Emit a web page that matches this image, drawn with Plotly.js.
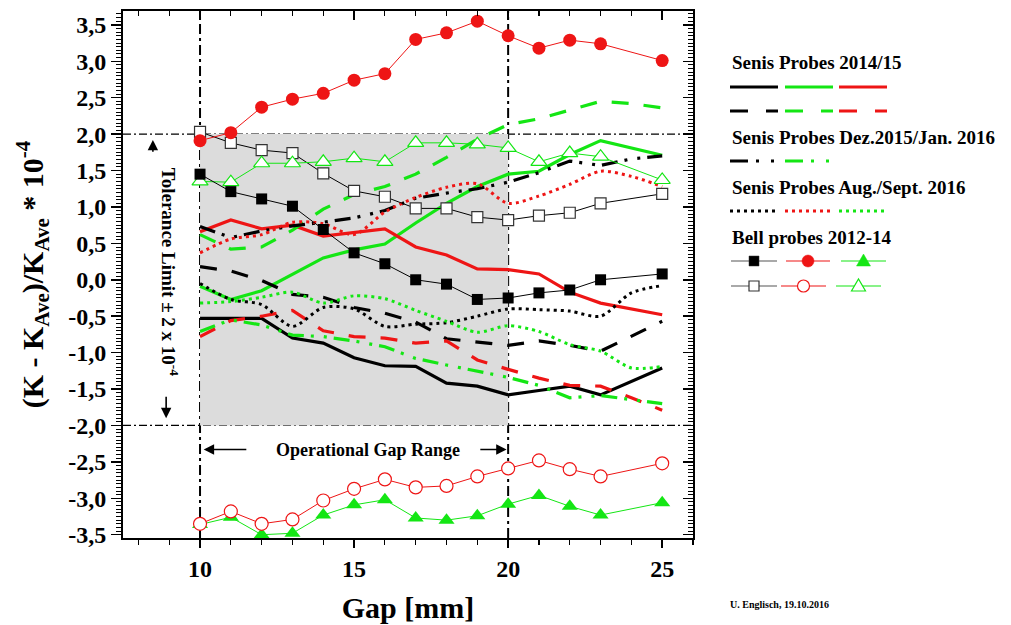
<!DOCTYPE html>
<html>
<head>
<meta charset="utf-8">
<script src="https://cdn.plot.ly/plotly-3.0.1.min.js"></script>
<style>html,body{margin:0;padding:0;background:#fff;}#chart{width:1011px;height:625px;}</style>
</head>
<body>
<div id="chart"></div>
<script>
// ---------------- DATA ----------------
const gapSenis = [10,11,12,13,14,15,16,17,18,19,20,21,22,23,24,25];
// Senis Probes 2014/15 (solid)
const senisBlackSolid = [-0.53,-0.53,-0.53,-0.80,-0.87,-1.07,-1.18,-1.19,-1.42,-1.46,-1.58,-1.52,-1.46,-1.58,-1.40,-1.21];
const senisGreenSolid = [-0.09,-0.27,-0.15,0.08,0.30,0.41,0.49,0.78,1.05,1.28,1.45,1.49,1.72,1.91,1.81,1.71];
const senisRedSolid   = [0.66,0.82,0.70,0.75,0.60,0.65,0.70,0.45,0.34,0.15,0.14,0.08,-0.17,-0.32,-0.40,-0.48];
// Senis Probes 2014/15 (dashed)
const senisBlackDash = [0.18,0.12,-0.01,-0.20,-0.24,-0.38,-0.46,-0.58,-0.81,-0.86,-0.90,-0.84,-0.90,-0.98,-0.78,-0.57];
const senisGreenDash = [0.62,0.42,0.45,0.68,0.97,1.17,1.28,1.45,1.68,1.93,2.13,2.21,2.33,2.45,2.42,2.36];
const senisRedDash   = [-0.78,-0.56,-0.50,-0.42,-0.70,-0.78,-0.80,-0.87,-0.84,-1.10,-1.23,-1.35,-1.45,-1.46,-1.62,-1.79];
// Senis Probes Dez.2015/Jan. 2016 (dash-dot)
const senisBlackDashDot = [0.73,0.58,0.67,0.74,0.79,0.85,0.95,1.12,1.19,1.25,1.34,1.47,1.63,1.57,1.66,1.70];
const senisGreenDashDot = [-0.71,-0.55,-0.62,-0.76,-0.78,-0.84,-0.92,-1.08,-1.17,-1.25,-1.34,-1.45,-1.62,-1.59,-1.65,-1.70];
// Senis Probes Aug./Sept. 2016 (dotted)
const senisBlackDot = [-0.05,-0.27,-0.34,-0.64,-0.38,-0.40,-0.64,-0.61,-0.59,-0.50,-0.40,-0.41,-0.43,-0.50,-0.18,-0.08];
const senisRedDot   = [0.37,0.56,0.62,0.79,0.77,0.62,0.93,1.13,1.27,1.32,1.05,1.15,1.31,1.49,1.42,1.28];
const senisGreenDot = [-0.32,-0.30,-0.24,-0.17,-0.32,-0.22,-0.26,-0.42,-0.57,-0.72,-0.63,-0.71,-0.89,-0.98,-1.21,-1.19];
// Bell probes 2012-14
const gapBell = [10,11,12,13,14,15,16,17,18,19,20,21,22,23,25];
const bellBlackFilled = [1.45,1.21,1.11,1.01,0.69,0.37,0.22,0.00,-0.06,-0.27,-0.25,-0.18,-0.14,0.00,0.08];
const bellRedFilled   = [1.91,2.02,2.37,2.48,2.56,2.74,2.83,3.30,3.39,3.55,3.35,3.18,3.29,3.24,3.01];
const bellGreenFilled = [-3.36,-3.26,-3.50,-3.48,-3.23,-3.09,-3.02,-3.27,-3.30,-3.24,-3.08,-2.96,-3.11,-3.23,-3.06];
const bellBlackOpen   = [2.03,1.88,1.78,1.74,1.46,1.22,1.14,0.98,0.98,0.86,0.82,0.88,0.92,1.05,1.18];
const bellRedOpen     = [-3.35,-3.18,-3.35,-3.29,-3.03,-2.87,-2.74,-2.85,-2.83,-2.70,-2.59,-2.48,-2.60,-2.70,-2.52];
const bellGreenOpen   = [1.35,1.34,1.60,1.60,1.62,1.67,1.62,1.88,1.88,1.86,1.81,1.62,1.74,1.69,1.37];
// reference limits and ticks
const toleranceLimit = 2;
const operationalGap = [10, 20];
const yTickVals = [-3.5,-3.0,-2.5,-2.0,-1.5,-1.0,-0.5,0.0,0.5,1.0,1.5,2.0,2.5,3.0,3.5];
const yTickText = ["-3,5","-3,0","-2,5","-2,0","-1,5","-1,0","-0,5","0,0","0,5","1,0","1,5","2,0","2,5","3,0","3,5"];
const legendTitles = ["Senis Probes 2014/15","Senis Probes Dez.2015/Jan. 2016","Senis Probes Aug./Sept. 2016","Bell probes 2012-14"];

// ---------------- STYLE ----------------
const BLACK = '#000000', GREEN = '#14e614', RED = '#ee1515';
const SERIF = 'Liberation Serif, Times New Roman, serif';
const DASH = '17px,15px';
const DASHDOT = '16px,7px,3px,10px,3px,7px';
const DOT = '3px,4px';
const L = 123, R = 693, T = 11, B = 538, WID = 1011, HEI = 625;
const px = x => (x - L) / (R - L);
const py = y => (B - y) / (B - T);

function senis(y, color, dash, shape) {
  return {x: gapSenis, y: y, type: 'scatter', mode: 'lines', showlegend: false,
    line: {color: color, width: dash === DOT ? 3 : 3.2, dash: dash, shape: shape || 'linear', smoothing: 0.8},
    hoverinfo: 'skip'};
}
function bell(y, color, symbol, size, open) {
  return {x: gapBell, y: y, type: 'scatter', mode: 'lines+markers', showlegend: false,
    line: {color: color, width: 1},
    marker: {symbol: symbol, size: size, color: open ? '#ffffff' : color,
      line: {color: color === BLACK ? '#333333' : color, width: open ? 1.2 : 0}},
    hoverinfo: 'skip'};
}
const traces = [
  senis(senisBlackSolid, BLACK, 'solid'),
  senis(senisGreenSolid, GREEN, 'solid'),
  senis(senisRedSolid, RED, 'solid'),
  senis(senisBlackDash, BLACK, DASH),
  senis(senisGreenDash, GREEN, DASH),
  senis(senisRedDash, RED, DASH),
  senis(senisBlackDashDot, BLACK, DASHDOT),
  senis(senisGreenDashDot, GREEN, DASHDOT),
  senis(senisBlackDot, BLACK, DOT, 'spline'),
  senis(senisRedDot, RED, DOT, 'spline'),
  senis(senisGreenDot, GREEN, DOT, 'spline'),
  bell(bellBlackOpen, BLACK, 'square', 11, true),
  bell(bellGreenOpen, GREEN, 'triangle-up', 14, true),
  bell(bellBlackFilled, BLACK, 'square', 11, false),
  bell(bellRedFilled, RED, 'circle', 13, false),
  bell(bellGreenFilled, GREEN, 'triangle-up', 14, false),
  bell(bellRedOpen, RED, 'circle', 13, true),
  {x: [], y: [], xaxis: 'x2', yaxis: 'y2', type: 'scatter', showlegend: false}
];

// ---------------- SHAPES ----------------
const shapes = [
  {type: 'rect', xref: 'x', yref: 'y', x0: operationalGap[0], x1: operationalGap[1], y0: -toleranceLimit, y1: toleranceLimit,
   fillcolor: '#dcdcdc', line: {width: 0}, layer: 'below'},
  {type: 'line', xref: 'paper', yref: 'y', x0: 0, x1: 1, y0: toleranceLimit, y1: toleranceLimit, line: {color: BLACK, width: 1.3, dash: '8px,3px,2px,3px'}, layer: 'below'},
  {type: 'line', xref: 'paper', yref: 'y', x0: 0, x1: 1, y0: -toleranceLimit, y1: -toleranceLimit, line: {color: BLACK, width: 1.3, dash: '8px,3px,2px,3px'}, layer: 'below'},
  {type: 'line', xref: 'x', yref: 'paper', x0: operationalGap[0], x1: operationalGap[0], y0: 0, y1: 1, line: {color: BLACK, width: 2, dash: '10px,4px,3px,4px'}, layer: 'below'},
  {type: 'line', xref: 'x', yref: 'paper', x0: operationalGap[1], x1: operationalGap[1], y0: 0, y1: 1, line: {color: BLACK, width: 2, dash: '10px,4px,3px,4px'}, layer: 'below'}
];
// legend samples (decoration, pixel-positioned)
function lseg(x0, x1, y, color, dash, w) {
  shapes.push({type: 'line', xref: 'paper', yref: 'paper', x0: px(x0), x1: px(x1), y0: py(y), y1: py(y),
    line: {color: color, width: w || 3.2, dash: dash || 'solid'}});
}
const segs = [[730,778],[785,833],[839,887]];
const cols = [BLACK, GREEN, RED];
segs.forEach((s, i) => lseg(s[0], s[1], 87, cols[i], 'solid'));
segs.forEach((s, i) => lseg(s[0], s[1], 111, cols[i], '18px,18px'));
lseg(730, 778, 161, BLACK, '18px,8px,3px,12px,3px,12px');
lseg(785, 833, 161, GREEN, '18px,8px,3px,12px,3px,12px');
[BLACK, RED, GREEN].forEach((c, i) => lseg(segs[i][0], segs[i][1] - 3, 211, c, DOT, 3));
// Bell legend rows
function bellLegend(x0, x1, y, color, kind, open) {
  const lc = color === BLACK ? '#555555' : color;
  lseg(x0, x1, y, lc, 'solid', 1.2);
  const cx = (x0 + x1) / 2, r = 5.5;
  const fill = open ? '#ffffff' : color;
  const line = {color: color === BLACK ? '#333333' : color, width: open ? 1.2 : 0.5};
  if (kind === 'square') shapes.push({type: 'rect', xref: 'paper', yref: 'paper', x0: px(cx - 5), x1: px(cx + 5), y0: py(y + 5), y1: py(y - 5), fillcolor: fill, line: line});
  if (kind === 'circle') shapes.push({type: 'circle', xref: 'paper', yref: 'paper', x0: px(cx - r - 0.5), x1: px(cx + r + 0.5), y0: py(y + r + 0.5), y1: py(y - r - 0.5), fillcolor: fill, line: line});
  if (kind === 'tri') shapes.push({type: 'path', xref: 'paper', yref: 'paper',
    path: `M ${px(cx - 7)} ${py(y + 5)} L ${px(cx + 7)} ${py(y + 5)} L ${px(cx)} ${py(y - 7)} Z`, fillcolor: fill, line: line});
}
bellLegend(731, 777, 261, BLACK, 'square', false);
bellLegend(786, 830, 261, RED, 'circle', false);
bellLegend(841, 886, 261, GREEN, 'tri', false);
bellLegend(731, 777, 286, BLACK, 'square', true);
bellLegend(781, 826, 286, RED, 'circle', true);
bellLegend(836, 881, 286, GREEN, 'tri', true);

// ---------------- ANNOTATIONS ----------------
const annFont = (s) => ({family: SERIF, size: s, color: BLACK, weight: 'bold'});
const annotations = [];
const legendY = [63, 137, 187, 237];
legendTitles.forEach((t, i) => annotations.push({xref: 'paper', yref: 'paper', x: px(730), y: py(legendY[i]),
  xanchor: 'left', yanchor: 'middle', text: t, showarrow: false, font: annFont(19)}));
annotations.push({xref: 'paper', yref: 'paper', x: px(779), y: py(604), text: 'U. Englisch, 19.10.2016',
  showarrow: false, xanchor: 'center', yanchor: 'middle', font: annFont(10)});
annotations.push({xref: 'x', yref: 'y', x: 15.45, y: -2.33, text: 'Operational Gap Range', showarrow: false,
  xanchor: 'center', yanchor: 'middle', font: annFont(18)});
annotations.push({xref: 'x', yref: 'y', x: 9.05, y: 0.10, text: 'Tolerance Limit ± 2 x 10<sup>-4</sup>', textangle: 90,
  showarrow: false, xanchor: 'center', yanchor: 'middle', font: annFont(19)});
function arrow(x, y, ax, ay) {
  annotations.push({xref: 'x', yref: 'y', axref: 'x', ayref: 'y', x: x, y: y, ax: ax, ay: ay, text: ' ',
    showarrow: true, arrowhead: 2, arrowsize: 1.3, arrowwidth: 1.6, arrowcolor: BLACK});
}
arrow(10.12, -2.33, 11.6, -2.33);
arrow(19.95, -2.33, 19.0, -2.33);
arrow(8.47, 1.92, 8.47, 1.64);
arrow(8.9, -1.9, 8.9, -1.49);

// ---------------- LAYOUT ----------------
const layout = {
  width: WID, height: HEI,
  margin: {l: L, r: WID - R, t: T, b: HEI - B, pad: 0},
  paper_bgcolor: '#ffffff', plot_bgcolor: '#ffffff',
  showlegend: false,
  font: {family: SERIF, color: BLACK},
  xaxis: {
    range: [7.5, 26], tickmode: 'linear', tick0: 0, dtick: 5, ticks: 'outside', ticklen: 8, tickwidth: 1.5, tickcolor: BLACK,
    minor: {tickmode: 'linear', tick0: 0, dtick: 1, ticks: 'outside', ticklen: 5, tickwidth: 1.2, tickcolor: BLACK, showgrid: false},
    showline: true, linecolor: BLACK, linewidth: 2, showgrid: false, zeroline: false, automargin: false,
    tickfont: {family: SERIF, size: 24, color: BLACK, weight: 'bold'},
    title: {text: 'Gap [mm]', font: {family: SERIF, size: 30, color: BLACK, weight: 'bold'}, standoff: 16}
  },
  xaxis2: {
    overlaying: 'x', side: 'top', matches: 'x', range: [7.5, 26], tickmode: 'linear', tick0: 0, dtick: 5, ticks: 'inside', ticklen: 9, tickwidth: 1.5, tickcolor: BLACK,
    minor: {tickmode: 'linear', tick0: 0, dtick: 1, ticks: 'inside', ticklen: 5, tickwidth: 1.2, tickcolor: BLACK, showgrid: false},
    showticklabels: false, showline: true, linecolor: BLACK, linewidth: 2, showgrid: false, zeroline: false, automargin: false
  },
  yaxis: {
    range: [-3.545, 3.69], tickmode: 'array', tickvals: yTickVals, ticktext: yTickText, ticks: 'outside', ticklen: 10, tickwidth: 1.5, tickcolor: BLACK,
    minor: {tickmode: 'linear', tick0: 0, dtick: 0.05, ticks: 'outside', ticklen: 5, tickwidth: 1, tickcolor: BLACK, showgrid: false},
    showline: true, linecolor: BLACK, linewidth: 2, showgrid: false, zeroline: false, automargin: false,
    tickfont: {family: SERIF, size: 24, color: BLACK, weight: 'bold'},
    title: {text: '(K - K<sub>Ave</sub>)/K<sub>Ave</sub> * 10<sup>-4</sup>', font: {family: SERIF, size: 30, color: BLACK, weight: 'bold'}, standoff: 16}
  },
  yaxis2: {
    overlaying: 'y', side: 'right', matches: 'y', range: [-3.545, 3.69], tickmode: 'array', tickvals: yTickVals, ticks: 'inside', ticklen: 10, tickwidth: 1.5, tickcolor: BLACK,
    minor: {tickmode: 'linear', tick0: 0, dtick: 0.05, ticks: 'inside', ticklen: 5, tickwidth: 1, tickcolor: BLACK, showgrid: false},
    showticklabels: false, showline: true, linecolor: BLACK, linewidth: 2, showgrid: false, zeroline: false, automargin: false
  },
  shapes: shapes,
  annotations: annotations
};

Plotly.newPlot('chart', traces, layout, {displayModeBar: false, staticPlot: true});
</script>
</body>
</html>
